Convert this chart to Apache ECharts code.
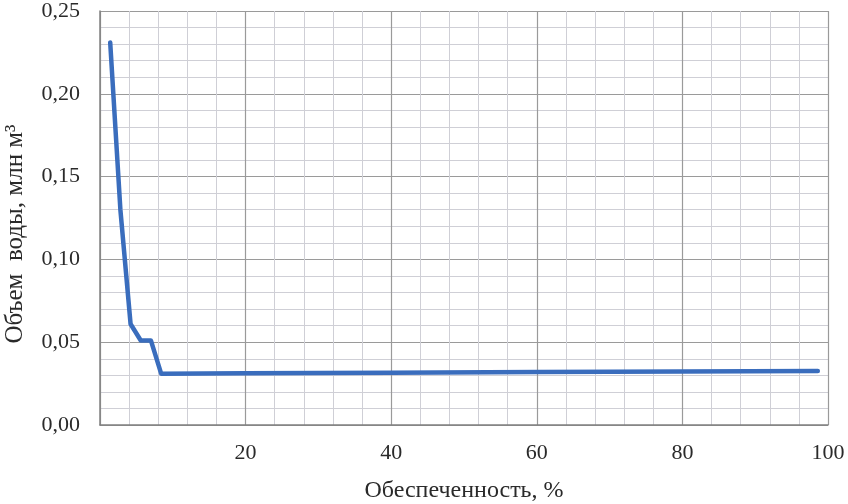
<!DOCTYPE html>
<html>
<head>
<meta charset="utf-8">
<script src="https://cdn.jsdelivr.net/npm/echarts@6/dist/echarts.min.js"></script>
<style>html,body{margin:0;padding:0;background:#fff;}#c{width:848px;height:504px;}</style>
</head>
<body>
<div id="c"></div>
<script>
const xValues = [1.4, 2.8, 4.2, 5.6, 7.0, 8.4, 20, 40, 60, 80, 98.6];
const yValues = [0.231, 0.130, 0.061, 0.051, 0.051, 0.031, 0.0312, 0.0316, 0.032, 0.0323, 0.0326];
const xTicks = [0, 20, 40, 60, 80, 100];
const yTicks = [0, 0.05, 0.10, 0.15, 0.20, 0.25];

const font = '"Liberation Serif", "DejaVu Serif", serif';
const chart = echarts.init(document.getElementById('c'));
chart.setOption({
  animation: false,
  backgroundColor: '#ffffff',
  grid: { left: 100, right: 20, top: 11, bottom: 79, containLabel: false, outerBoundsMode: 'none' },
  xAxis: {
    type: 'value', min: xTicks[0], max: xTicks[xTicks.length - 1], interval: 20,
    name: 'Обеспеченность, %', nameLocation: 'middle', nameGap: 54,
    nameTextStyle: { fontFamily: font, fontSize: 24, color: '#2a2a2a' },
    axisLine: { show: true, lineStyle: { color: '#808080', width: 1.5 } },
    axisTick: { show: false },
    axisLabel: { fontFamily: font, fontSize: 22, color: '#2a2a2a', margin: 17,
      formatter: v => v === 0 ? '' : String(v) },
    splitLine: { show: true, lineStyle: { color: '#9a9a9a', width: 1.2 } },
    minorTick: { show: false, splitNumber: 5 },
    minorSplitLine: { show: true, lineStyle: { color: '#cfcfd6', width: 1 } }
  },
  yAxis: {
    type: 'value', min: yTicks[0], max: yTicks[yTicks.length - 1], interval: 0.05,
    name: 'Объем  воды, млн м³', nameLocation: 'middle', nameGap: 72,
    nameTextStyle: { fontFamily: font, fontSize: 25, color: '#2a2a2a', padding: [0, 32, 0, 0] },
    axisLine: { show: true, lineStyle: { color: '#808080', width: 1.5 } },
    axisTick: { show: false },
    axisLabel: { fontFamily: font, fontSize: 22, color: '#2a2a2a', margin: 20,
      formatter: v => v.toFixed(2).replace('.', ',') },
    splitLine: { show: true, lineStyle: { color: '#9a9a9a', width: 1.2 } },
    minorTick: { show: false, splitNumber: 5 },
    minorSplitLine: { show: true, lineStyle: { color: '#cfcfd6', width: 1 } }
  },
  series: [{
    type: 'line',
    data: xValues.map((x, i) => [x, yValues[i]]),
    symbol: 'none',
    lineStyle: { color: '#3a6dbd', width: 4.5, cap: 'round', join: 'round' }
  }]
});
</script>
</body>
</html>
